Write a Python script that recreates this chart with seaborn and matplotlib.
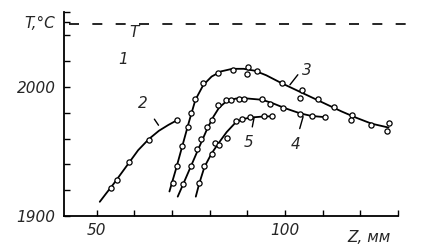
import matplotlib
matplotlib.use("Agg")
import matplotlib.pyplot as plt
import seaborn as sns
import pandas as pd

# ---- data ----
# smooth curves (drawn lines)
c2_z = [50.8, 52.5, 54.5, 56.5, 58.5, 61.0, 63.8, 66.5, 69.0, 71.2]
c2_t = [1911, 1917.5, 1925, 1933, 1941, 1951, 1959.5, 1966, 1970.5, 1974]
c3_z = [69.3, 71.0, 72.7, 74.5, 76.2, 78.3, 80.5, 83.0, 86.0, 89.0, 92.0, 95.0, 99.0, 103.0, 107.0, 111.0, 115.0, 119.0, 123.0, 127.5]
c3_t = [1919, 1936, 1954, 1973, 1990, 2001.5, 2008, 2012, 2014, 2014, 2012.5, 2009, 2003, 1997.5, 1992, 1986.5, 1981, 1976, 1971.5, 1968.5]
c4_z = [71.5, 73.0, 75.0, 77.0, 79.4, 81.0, 82.5, 84.5, 87.0, 90.0, 94.0, 97.0, 100.0, 104.0, 107.0, 110.8]
c4_t = [1915, 1925, 1938.5, 1952, 1968, 1977, 1984, 1989, 1991, 1991, 1990, 1987, 1983.5, 1979.5, 1977.5, 1976.5]
c5_z = [76.3, 77.2, 78.6, 80.5, 82.5, 84.5, 86.9, 89.0, 91.0, 94.0, 97.0]
c5_t = [1915, 1925, 1938, 1948.5, 1957, 1965, 1972.5, 1975.2, 1976.3, 1977, 1977.3]

# measured points (open circles)
p2_z = [53.8, 55.4, 58.5, 63.8, 71.2]
p2_t = [1922, 1928, 1942, 1959, 1974]
p3_z = [70.2, 71.4, 72.7, 74.1, 74.9, 76.2, 78.1, 82.1, 86.1, 90.1, 89.8, 92.6, 99.1, 104.6, 104.1, 108.8, 113.1, 117.7, 117.5, 122.7, 127.5, 127.2]
p3_t = [1925.8, 1938.5, 1954.1, 1969.0, 1979.5, 1990.6, 2002.9, 2010.5, 2013.3, 2015.6, 2010.2, 2012.1, 2002.9, 1997.3, 1991.2, 1990.9, 1984.1, 1978.1, 1974.5, 1970.5, 1971.9, 1965.9]
p4_z = [73.0, 74.9, 76.5, 77.8, 79.4, 80.6, 82.3, 84.4, 85.6, 87.8, 89.2, 93.8, 96.0, 99.5, 104.0, 107.1, 110.6]
p4_t = [1924.6, 1938.5, 1951.6, 1959.8, 1968.8, 1974.2, 1986.2, 1990.2, 1990.2, 1990.9, 1990.6, 1990.6, 1986.7, 1983.8, 1978.9, 1977.1, 1976.3]
p5_z = [77.2, 78.4, 80.6, 81.5, 82.5, 84.7, 86.9, 88.6, 90.7, 94.4, 96.6]
p5_t = [1925.4, 1938.5, 1947.7, 1956.8, 1954.9, 1960.2, 1973.8, 1975.0, 1976.3, 1977.1, 1977.1]

t_adiabatic = 2048.7

curve_labels = ["1", "T", "2", "3", "4", "5"]
label_z = [56.9, 59.8, 62.2, 105.8, 102.9, 90.2]
label_t = [2021.5, 2042.0, 1987.4, 2012.6, 1955.1, 1956.7]

# leader strokes from labels to curves
lead_z = [(65.3, 66.4), (101.3, 103.4), (104.8, 103.9), (91.8, 91.3)]
lead_t = [(1975.0, 1970.3), (2001.6, 2009.4), (1976.9, 1967.7), (1976.4, 1969.0)]

x_ticks = [50, 60, 70, 80, 90, 100, 110, 120, 130]
x_ticklabels = ["50", "", "", "", "", "100", "", "", ""]
y_ticks = [1900, 1920, 1940, 1960, 1980, 2000, 2020, 2040, 2050, 2058]
y_ticklabels = ["1900", "", "", "", "", "2000", "", "", "", ""]

# ---- figure ----
sns.set_style("white")
plt.rcParams["font.family"] = ["DejaVu Sans"]
fig = plt.figure(figsize=(4.22, 2.48), dpi=100)
ax = fig.add_axes([64 / 422, 1 - 216 / 248, (398 - 64) / 422, (216 - 12) / 248])

lw = 1.3
for zz, tt in [(c2_z, c2_t), (c3_z, c3_t), (c4_z, c4_t), (c5_z, c5_t)]:
    sns.lineplot(x=zz, y=tt, ax=ax, color="black", lw=lw, sort=False, estimator=None)

pts = pd.DataFrame({
    "z": p2_z + p3_z + p4_z + p5_z,
    "t": p2_t + p3_t + p4_t + p5_t,
})
sns.scatterplot(data=pts, x="z", y="t", ax=ax, marker="o", s=14,
                facecolor="white", edgecolor="black", linewidth=0.9, zorder=5)

ax.plot([42.5, 133.5], [t_adiabatic, t_adiabatic], color="black", lw=1.2,
        dashes=(6, 8), clip_on=False)

for (z0, z1), (t0, t1) in zip(lead_z, lead_t):
    ax.plot([z0, z1], [t0, t1], color="black", lw=1.0)

for s, z, t in zip(curve_labels, label_z, label_t):
    ax.text(z, t, s, fontsize=11, style="italic", ha="center", va="center")

ax.set_xlim(41.3, 129.8)
ax.set_ylim(1900, 2058)
ax.set_xticks(x_ticks)
ax.set_xticklabels(x_ticklabels, fontsize=11, style="italic")
ax.set_yticks(y_ticks)
ax.set_yticklabels(y_ticklabels, fontsize=11, style="italic")
ax.tick_params(bottom=True, left=True, direction="in", length=4, width=1.0,
               color="black", pad=6)
ax.tick_params(axis="x", pad=5)
for side in ["top", "right"]:
    ax.spines[side].set_visible(False)
for side in ["left", "bottom"]:
    ax.spines[side].set_color("black")
    ax.spines[side].set_linewidth(1.3)
ax.set_xlabel("")
ax.set_ylabel("")

fig.text(40 / 422, 1 - 23 / 248, "T,°C", fontsize=11, style="italic", ha="center", va="center")
fig.text(369 / 422, 1 - 238 / 248, "Z, мм", fontsize=11, style="italic", ha="center", va="center")

fig.savefig("out.png", dpi=100)
